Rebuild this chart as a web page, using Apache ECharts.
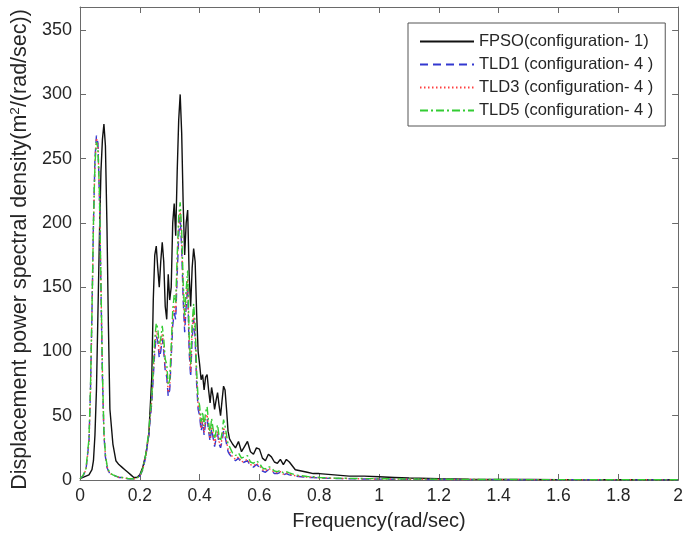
<!DOCTYPE html>
<html>
<head>
<meta charset="utf-8">
<script src="https://cdn.jsdelivr.net/npm/echarts@6/dist/echarts.min.js"></script>
<style>html,body{margin:0;padding:0;background:#fff}#c{width:686px;height:541px}</style>
</head>
<body>
<div id="c"></div>
<script>
var seriesNames = ['FPSO(configuration- 1)', 'TLD1 (configuration- 4 )', 'TLD3 (configuration- 4 )', 'TLD5 (configuration- 4 )'];
var xTicks = [0, 0.2, 0.4, 0.6, 0.8, 1, 1.2, 1.4, 1.6, 1.8, 2];
var yTicks = [0, 50, 100, 150, 200, 250, 300, 350];

var freq = [
  0,0.01,0.02,0.03,0.035,0.04,0.045,0.05,0.055,0.06,
  0.065,0.07,0.075,0.08,0.085,0.09,0.095,0.1,0.11,0.12,
  0.13,0.14,0.15,0.16,0.17,0.18,0.19,0.2,0.21,0.22,
  0.23,0.24,0.245,0.25,0.255,0.26,0.265,0.27,0.275,0.28,
  0.285,0.29,0.295,0.3,0.305,0.31,0.315,0.32,0.325,0.33,
  0.335,0.34,0.345,0.35,0.355,0.36,0.365,0.37,0.375,0.38,
  0.385,0.39,0.395,0.4,0.405,0.41,0.415,0.42,0.425,0.43,
  0.435,0.44,0.445,0.45,0.455,0.46,0.465,0.47,0.475,0.48,
  0.485,0.49,0.495,0.5,0.51,0.52,0.53,0.54,0.55,0.56,
  0.57,0.58,0.59,0.6,0.61,0.62,0.63,0.64,0.65,0.66,
  0.67,0.68,0.69,0.7,0.72,0.74,0.76,0.78,0.8,0.85,
  0.9,0.95,1.0,1.05,1.1,1.2,1.3,1.4,1.5,1.6,
  1.7,1.8,1.9,2.0
];

var fpso = [
  1,2,3,4,5,8,15,35,70,130,
  190,240,265,277,260,200,120,55,28,15,
  12,10,8,6,4,2,2,4,10,20,
  35,80,140,175,182,165,150,170,185,170,
  135,125,160,140,150,200,215,190,240,280,
  300,270,215,175,200,210,160,135,165,180,
  170,130,100,90,78,82,70,80,82,70,
  60,72,65,55,62,68,58,50,62,73,
  70,55,38,32,28,25,30,22,26,30,
  22,20,25,24,17,15,20,18,14,13,
  16,12,16,14,8,7,6,5,5,4,
  3,3,2.5,2,1.5,1,0.7,0.5,0.4,0.3,
  0.3,0.2,0.2,0.2
];

var tld1 = [
  1,3,8,30,70,130,200,250,268,262,
  220,150,80,35,18,10,7,5,4,3,
  2,2,1.5,1,1,1,1.5,3,8,18,
  35,60,80,100,112,108,95,100,110,100,
  85,80,65,70,95,120,130,125,160,190,
  205,180,140,115,135,150,100,80,110,125,
  110,75,55,50,38,45,35,45,48,38,
  30,40,33,26,32,36,28,25,30,38,
  34,28,22,20,17,15,17,13,14,15,
  11,10,12,10,7,6,8,7,5,5,
  6,4,5,4,3,2.5,2,2,1.5,1.2,
  1,0.8,0.7,0.6,0.5,0.4,0.3,0.25,0.2,0.2,
  0.15,0.15,0.1,0.1
];

var tld3 = [
  1,3,8,29,68,128,198,248,266,261,
  222,152,82,36,19,11,7,5,4,3,
  2,2,1.5,1,1,1,1.5,3,8,19,
  36,62,83,104,116,112,99,104,114,104,
  88,84,68,73,99,125,136,130,166,197,
  210,186,146,120,141,156,105,84,115,130,
  115,79,58,53,40,48,37,48,51,40,
  32,43,35,28,34,38,30,27,32,41,
  36,30,24,22,18,16,18,14,15,16,
  12,11,13,11,8,7,9,8,6,5.5,
  6.5,4.5,5.5,4.5,3.3,2.8,2.2,2.1,1.7,1.3,
  1.1,0.9,0.8,0.7,0.6,0.45,0.35,0.3,0.25,0.2,
  0.2,0.15,0.15,0.1
];

var tld5 = [
  1,3.5,9,32,72,132,200,246,263,258,
  224,155,85,38,20,12,8,5.5,4,3,
  2.2,2,1.6,1.2,1,1,1.6,3.2,8.5,20,
  38,65,88,110,122,118,105,110,120,110,
  94,90,74,78,105,132,144,138,175,205,
  216,194,154,128,148,163,112,90,122,137,
  122,85,63,58,45,53,42,53,57,45,
  36,48,40,32,38,43,34,30,37,47,
  42,35,28,26,21,19,21,17,18,19,
  14,13,15,13,9.5,8.5,10.5,9.5,7,6.5,
  7.5,5.5,6.5,5.5,4,3.3,2.7,2.5,2,1.5,
  1.3,1.1,1,0.9,0.8,0.6,0.45,0.4,0.3,0.3,
  0.25,0.2,0.2,0.15
];

function pairs(vals) { return freq.map(function (f, i) { return [f, vals[i]]; }); }

var FONT = '"Liberation Sans", Arial, sans-serif';
var TXT = '#262626';
var FRAME = '#6a6a6a';

var chart = echarts.init(document.getElementById('c'), null, { renderer: 'canvas' });

function xAx(pos, showLabels) {
  return {
    type: 'value', position: pos, min: xTicks[0], max: xTicks[xTicks.length - 1],
    interval: xTicks[1] - xTicks[0],
    axisLine: { show: true, onZero: false, lineStyle: { color: FRAME, width: 1 } },
    axisTick: { show: true, inside: true, length: 6, lineStyle: { color: FRAME } },
    axisLabel: { show: showLabels, color: TXT, fontSize: 17.5, fontFamily: FONT, margin: 7 },
    splitLine: { show: false },
    name: showLabels ? 'Frequency(rad/sec)' : '',
    nameLocation: 'middle', nameGap: 31,
    nameTextStyle: { color: TXT, fontSize: 20, fontFamily: FONT }
  };
}
function yAx(pos, showLabels) {
  return {
    type: 'value', position: pos, min: yTicks[0], max: 368,
    interval: yTicks[1] - yTicks[0],
    axisLine: { show: true, onZero: false, lineStyle: { color: FRAME, width: 1 } },
    axisTick: { show: true, inside: true, length: 6, lineStyle: { color: FRAME },
      customValues: yTicks },
    axisLabel: { show: showLabels, color: TXT, fontSize: 18, fontFamily: FONT, margin: 8,
      customValues: yTicks },
    splitLine: { show: false },
    name: showLabels ? 'Displacement power spectral density(m{sup|2}/(rad/sec))' : '',
    nameLocation: 'middle', nameGap: 48,
    nameTextStyle: { color: TXT, fontSize: 21.5, fontFamily: FONT, padding: [0, 12, 0, 0],
      rich: { sup: { fontSize: 13.5, fontFamily: FONT, color: TXT, padding: [0, 0, 10, 0] } } }
  };
}

var styles = [
  { color: '#111111', type: 'solid', width: 1.4 },
  { color: '#3338d0', type: [8, 5], width: 1.4 },
  { color: '#ff4040', type: [1.5, 2.5], width: 1.4 },
  { color: '#33cc33', type: [8, 3, 2, 3], width: 1.4 }
];
var dataSets = [fpso, tld1, tld3, tld5];

var option = {
  animation: false,
  backgroundColor: '#ffffff',
  grid: { left: 77, right: 6, top: 7, bottom: 61, containLabel: false },
  xAxis: [xAx('bottom', true), xAx('top', false)],
  yAxis: [yAx('left', true), yAx('right', false)],
  legend: {
    orient: 'vertical', left: 408, top: 23,
    itemWidth: 54, itemHeight: 14, itemGap: 6,
    padding: [10, 12, 7, 11],
    backgroundColor: '#ffffff', borderColor: '#555555', borderWidth: 1,
    itemStyle: { opacity: 0 },
    textStyle: { color: TXT, fontSize: 16.5, fontFamily: FONT },
    data: seriesNames
  },
  series: dataSets.map(function (d, i) {
    return {
      name: seriesNames[i], type: 'line', data: pairs(d),
      xAxisIndex: 0, yAxisIndex: 0,
      symbol: 'none', showSymbol: false, smooth: false,
      lineStyle: styles[i], itemStyle: { color: styles[i].color },
      z: 2 + i
    };
  })
};
chart.setOption(option);
</script>
</body>
</html>
